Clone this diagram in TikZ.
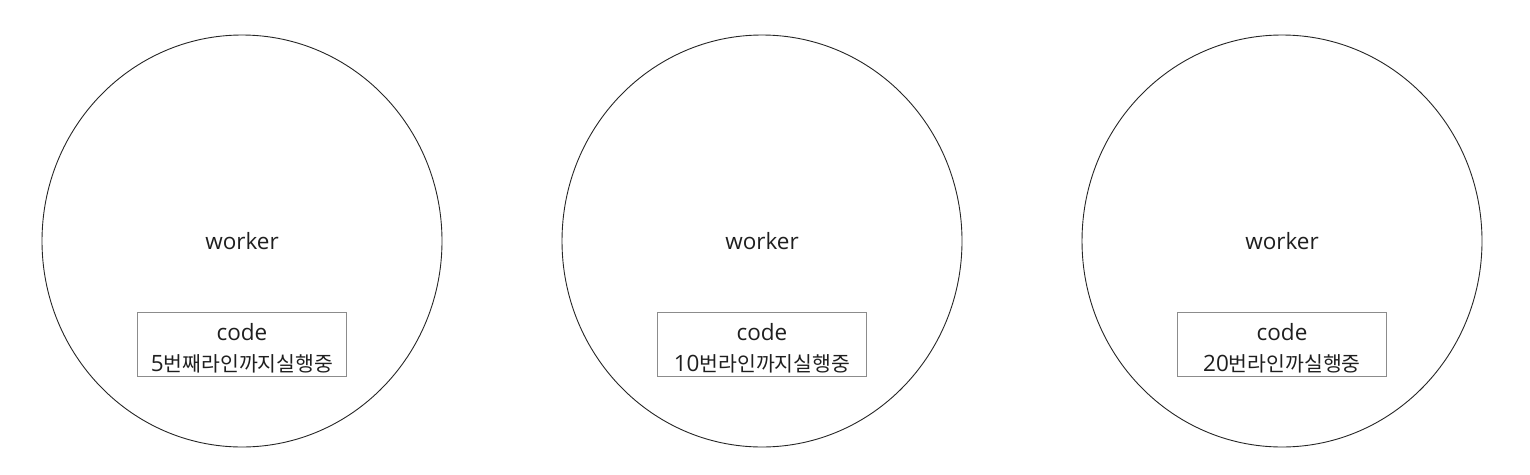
\documentclass[tikz,border=0pt]{standalone}
\usepackage{fontspec}
\setmainfont{Open Sans}
\newfontfamily\krfont{Noto Sans CJK KR}[Scale=0.91]
\usetikzlibrary{shapes.geometric}

\newcommand{\topstrut}{\rule{0pt}{25pt}}
\tikzset{
  workerball/.style={ellipse, draw=black!85, line width=0.9pt, minimum width=400pt, minimum height=412pt, inner sep=0pt, text=black!88, font=\fontsize{22.5}{27}\selectfont},
  codebox/.style={rectangle, draw=black!45, line width=1pt, minimum width=209pt, minimum height=64pt, inner sep=0pt, align=center, text=black!88, font=\fontsize{22.5}{31}\selectfont}
}

\begin{document}
\begin{tikzpicture}[x=1pt, y=-1pt]
\useasboundingbox (0,0) rectangle (1530,474);
\node[workerball] (w1) at (242,241) {worker};
\node[workerball] (w2) at (762,241) {worker};
\node[workerball] (w3) at (1282,241) {worker};
\node[codebox] (c1) at (242,344) {\topstrut code\\5{\krfont 번째라인까지실행중}};
\node[codebox] (c2) at (762,344) {\topstrut code\\10{\krfont 번라인까지실행중}};
\node[codebox] (c3) at (1282,344) {\topstrut code\\20{\krfont 번라인까실행중}};
\end{tikzpicture}
\end{document}
